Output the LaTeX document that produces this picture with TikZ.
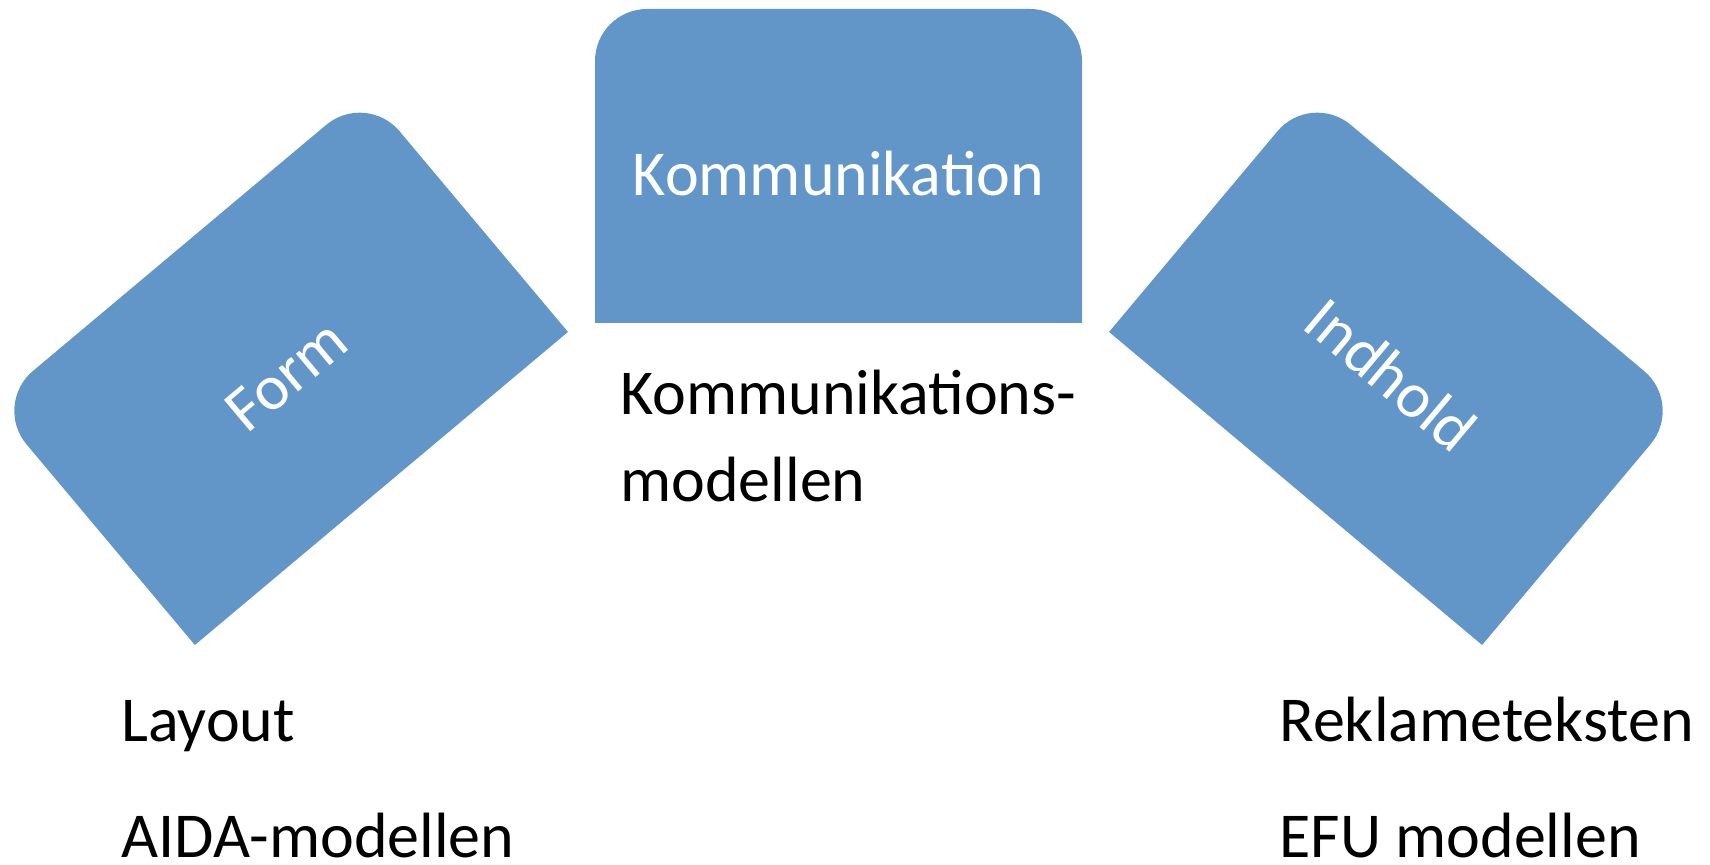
\documentclass[tikz,border=0pt]{standalone}
\usepackage{fontspec}
\setmainfont{Carlito}
\definecolor{boxblue}{RGB}{98,150,200}
\begin{document}
\begin{tikzpicture}[x=0.5pt,y=0.5pt,
  boxfill/.style={fill=boxblue},
  boxtext/.style={text=white,font=\fontsize{32pt}{38pt}\selectfont,inner sep=0pt,anchor=base,transform shape},
  plaintext/.style={text=black,font=\fontsize{32pt}{38pt}\selectfont,inner sep=0pt,anchor=base west}]
\useasboundingbox (0,0) rectangle (1710,864);
% central box
\begin{scope}[shift={(838.5,698)}]
  \fill[boxfill] (-243.5,-157) -- (-243.5,105) arc[start angle=180,end angle=90,radius=26pt] -- (191.5,157) arc[start angle=90,end angle=0,radius=26pt] -- (243.5,-157) -- cycle;
  \node[boxtext] (komm) at (0,-30) {Kommunikation};
\end{scope}
% left box
\begin{scope}[shift={(280.5,495.8)},rotate=40]
  \fill[boxfill] (-243.5,-157) -- (-243.5,105) arc[start angle=180,end angle=90,radius=26pt] -- (191.5,157) arc[start angle=90,end angle=0,radius=26pt] -- (243.5,-157) -- cycle;
  \node[boxtext] (form) at (0,-30) {Form};
\end{scope}
% right box
\begin{scope}[shift={(1396.5,495.8)},rotate=-40]
  \fill[boxfill] (-243.5,-157) -- (-243.5,105) arc[start angle=180,end angle=90,radius=26pt] -- (191.5,157) arc[start angle=90,end angle=0,radius=26pt] -- (243.5,-157) -- cycle;
  \node[boxtext] (indhold) at (0,-30) {Indhold};
\end{scope}
% texts
\node[plaintext] (km1) at (620,450) {Kommunikations-};
\node[plaintext] (km2) at (620,363) {modellen};
\node[plaintext] (lay) at (121,123) {Layout};
\node[plaintext] (aida) at (121,7) {AIDA-modellen};
\node[plaintext] (rek) at (1279,123) {Reklameteksten};
\node[plaintext] (efu) at (1279,7) {EFU modellen};
\end{tikzpicture}
\end{document}
